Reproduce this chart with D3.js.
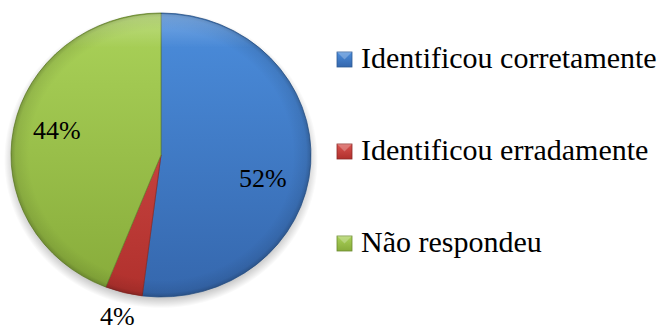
<!DOCTYPE html>
<html><head><meta charset="utf-8"><script src="https://cdn.jsdelivr.net/npm/d3@7"></script></head>
<body style="margin:0">
<div id="root"></div>
<script>
// ---- data ----
const categories = ["Identificou corretamente", "Identificou erradamente", "Não respondeu"];
const values = [52, 4, 44];
const labels = ["52%", "4%", "44%"];
const colorsLight = ["#4b8ddc", "#d9534f", "#aad259"];
const colorsDark  = ["#3567ad", "#b0302c", "#87ab3a"];
const strokeColors = ["#2f5b94", "#8c2a27", "#6b8a30"];

// ---- layout ----
const cx = 161, cy = 155, rx = 150, ry = 142;
const svg = d3.select("#root").append("svg").attr("width", 670).attr("height", 331)
  .style("display", "block");
const defs = svg.append("defs");

categories.forEach((c, i) => {
  const g = defs.append("linearGradient")
    .attr("id", "grad" + i)
    .attr("gradientUnits", "userSpaceOnUse")
    .attr("x1", 0).attr("y1", -rx).attr("x2", 0).attr("y2", rx);
  g.append("stop").attr("offset", "0%").attr("stop-color", colorsLight[i]);
  g.append("stop").attr("offset", "100%").attr("stop-color", colorsDark[i]);
  const lg = defs.append("linearGradient")
    .attr("id", "lgrad" + i).attr("x1", 0).attr("y1", 0).attr("x2", 0).attr("y2", 1);
  lg.append("stop").attr("offset", "0%").attr("stop-color", colorsLight[i]);
  lg.append("stop").attr("offset", "100%").attr("stop-color", colorsDark[i]);
});

const bevel = defs.append("radialGradient").attr("id", "bevel")
  .attr("cx", "50%").attr("cy", "50%").attr("r", "50%");
bevel.append("stop").attr("offset", "88%").attr("stop-color", "#000").attr("stop-opacity", 0);
bevel.append("stop").attr("offset", "97%").attr("stop-color", "#000").attr("stop-opacity", 0.08);
bevel.append("stop").attr("offset", "100%").attr("stop-color", "#000").attr("stop-opacity", 0.22);

const hl = defs.append("linearGradient").attr("id", "hl")
  .attr("x1", 0).attr("y1", 0).attr("x2", 0).attr("y2", 1);
hl.append("stop").attr("offset", "0%").attr("stop-color", "#fff").attr("stop-opacity", 0.25);
hl.append("stop").attr("offset", "12%").attr("stop-color", "#fff").attr("stop-opacity", 0);
hl.append("stop").attr("offset", "100%").attr("stop-color", "#fff").attr("stop-opacity", 0);

const sh = defs.append("radialGradient").attr("id", "shade")
  .attr("cx", "50%").attr("cy", "50%").attr("r", "50%");
sh.append("stop").attr("offset", "90%").attr("stop-color", "#000").attr("stop-opacity", 0.3);
sh.append("stop").attr("offset", "100%").attr("stop-color", "#000").attr("stop-opacity", 0);

// ---- pie ----
const pie = d3.pie().sort(null).value(d => d)(values);
const arc = d3.arc().innerRadius(0).outerRadius(rx);

const g = svg.append("g").attr("transform", `translate(${cx},${cy}) scale(1,${ry / rx})`);

g.append("circle").attr("cy", 5).attr("r", rx + 7).attr("fill", "url(#shade)");

g.selectAll("path.slice").data(pie).join("path")
  .attr("class", "slice")
  .attr("d", arc)
  .attr("fill", (d, i) => `url(#grad${i})`)
  .attr("stroke", (d, i) => strokeColors[i])
  .attr("stroke-width", 0.8)
  .attr("stroke-linejoin", "round");

g.append("circle").attr("r", rx).attr("fill", "url(#bevel)");
g.append("circle").attr("r", rx - 1).attr("fill", "url(#hl)");

// ---- labels ----
const labelArcIn = d3.arc().innerRadius(104).outerRadius(104);
const labelArcOut = d3.arc().innerRadius(176).outerRadius(176);
const nudge = [[-2, 17], [0, 0], [-2, -7]];
pie.forEach((d, i) => {
  const outside = values[i] < 10;
  const c = (outside ? labelArcOut : labelArcIn).centroid(d);
  svg.append("text")
    .attr("x", cx + c[0] + nudge[i][0])
    .attr("y", cy + c[1] * ry / rx + nudge[i][1] + 9)
    .attr("text-anchor", "middle")
    .attr("font-size", 26)
    .style("font-family", `"Liberation Serif"`)
    .text(labels[i]);
});

// ---- legend ----
const legendY = d3.scalePoint().domain(categories).range([68, 252]);
categories.forEach((c, i) => {
  const by = legendY(c);
  svg.append("rect")
    .attr("x", 337).attr("y", by - 16).attr("width", 15).attr("height", 15)
    .attr("fill", `url(#lgrad${i})`)
    .attr("stroke", strokeColors[i]).attr("stroke-width", 0.8);
  svg.append("path")
    .attr("d", `M337,${by - 16} L352,${by - 16} L344.5,${by - 8.5} Z`)
    .attr("fill", "#fff").attr("fill-opacity", 0.25);
  svg.append("text")
    .attr("x", 361).attr("y", by)
    .attr("font-size", 30)
    .style("font-family", `"Liberation Serif"`)
    .text(c);
});
</script>
</body></html>
